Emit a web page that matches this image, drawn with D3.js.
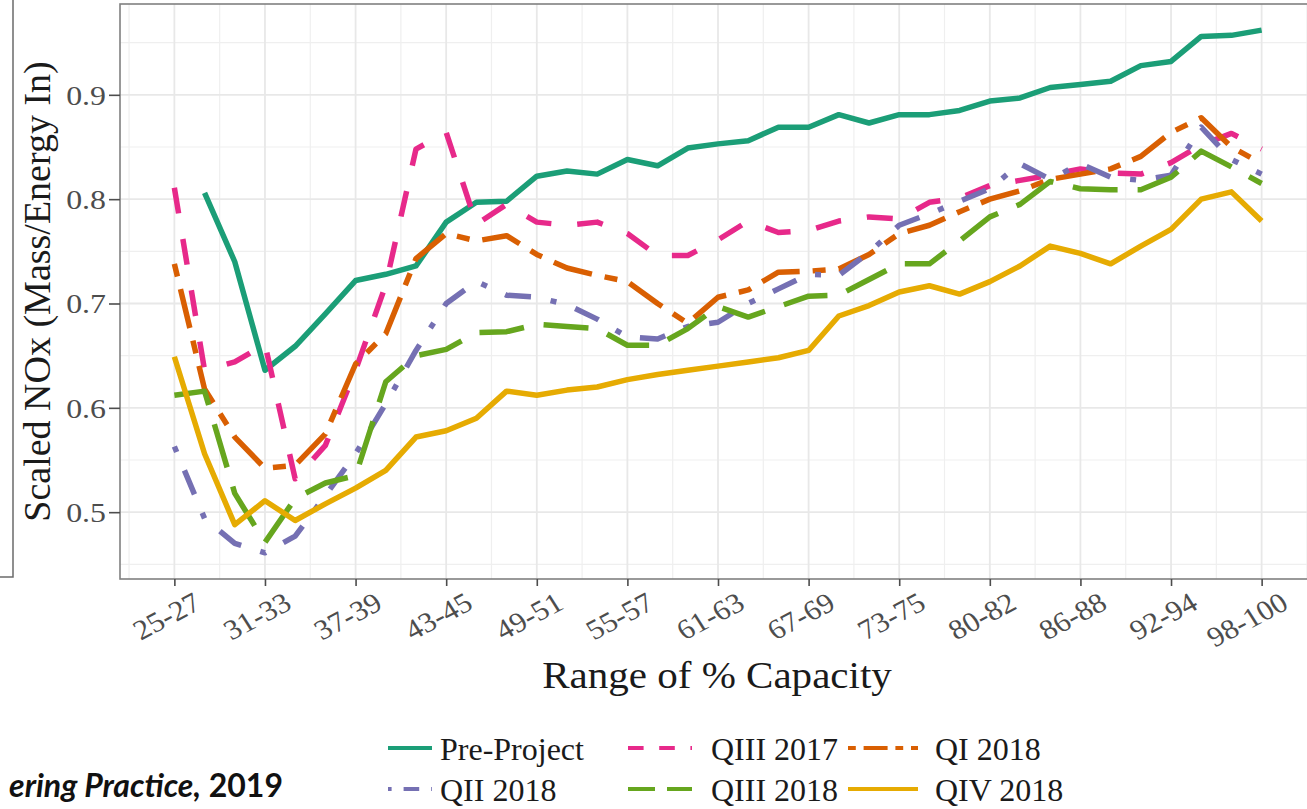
<!DOCTYPE html>
<html lang="en">
<head>
<meta charset="utf-8">
<title>Scaled NOx by range of capacity</title>
<script src="https://cdn.jsdelivr.net/npm/d3@7"></script>
<style>
  body { margin: 0; background: #fff; }
  svg text { font-family: "Liberation Serif", "Times New Roman", serif; }
</style>
</head>
<body>
<script>
// midpoint of each % capacity bin
var capacity = [26, 28, 30, 32, 34, 36, 38, 40, 42, 44, 46, 48, 50, 52, 54, 56, 58, 60, 62,
                64, 66, 68, 70, 72, 74, 76, 78, 80, 82, 84, 86, 88, 90, 92, 94, 96, 98];
var xTicks = [26, 32, 38, 44, 50, 56, 62, 68, 74, 80, 86, 92, 98];
var xTickLabels = ["25-27", "31-33", "37-39", "43-45", "49-51", "55-57", "61-63",
                   "67-69", "73-75", "80-82", "86-88", "92-94", "98-100"];
var yTicks = [0.5, 0.6, 0.7, 0.8, 0.9];

var preProject = [null, 0.806, 0.740, 0.636, 0.659, 0.690, 0.722, 0.728, 0.736, 0.778,
                  0.797, 0.798, 0.822, 0.827, 0.824, 0.838, 0.832, 0.849, 0.853, 0.856,
                  0.869, 0.869, 0.881, 0.873, 0.881, 0.881, 0.885, 0.894, 0.897, 0.907,
                  0.910, 0.913, 0.928, 0.932, 0.956, 0.957, 0.962];
var q3_2017 = [0.811, 0.636, 0.644, 0.661, 0.532, 0.564, 0.636, 0.718, 0.848, 0.864,
               0.776, 0.795, 0.778, 0.775, 0.778, 0.767, 0.746, 0.746, 0.761, 0.779,
               0.768, 0.770, 0.779, 0.783, 0.781, 0.797, 0.801, 0.813, 0.818, 0.823,
               0.829, 0.825, 0.824, 0.835, 0.852, 0.863, 0.848];
var q1_2018 = [0.738, 0.618, 0.572, 0.542, 0.545, 0.575, 0.642, 0.671, 0.743, 0.767,
               0.760, 0.765, 0.747, 0.734, 0.727, 0.721, 0.700, 0.681, 0.706, 0.713,
               0.730, 0.731, 0.733, 0.747, 0.767, 0.775, 0.788, 0.800, 0.808, 0.819,
               0.824, 0.829, 0.841, 0.864, 0.878, 0.850, 0.834];
var q2_2018 = [0.563, 0.494, 0.470, 0.461, 0.477, 0.516, 0.556, 0.604, 0.655, 0.700,
               0.721, 0.708, 0.706, 0.699, 0.685, 0.668, 0.666, 0.678, 0.682, 0.700,
               0.714, 0.728, 0.727, 0.749, 0.775, 0.786, 0.798, 0.810, 0.834, 0.819,
               0.834, 0.821, 0.818, 0.823, 0.869, 0.838, 0.824];
var q3_2018 = [0.612, 0.616, 0.518, 0.471, 0.513, 0.528, 0.535, 0.625, 0.650, 0.656,
               0.672, 0.673, 0.680, 0.678, 0.676, 0.660, 0.660, 0.676, 0.697, 0.687,
               0.697, 0.707, 0.708, 0.723, 0.738, 0.738, 0.760, 0.783, 0.795, 0.817,
               0.810, 0.809, 0.809, 0.821, 0.846, 0.831, 0.815];
var q4_2018 = [0.649, 0.556, 0.488, 0.511, 0.492, 0.508, 0.523, 0.540, 0.572, 0.578,
               0.590, 0.616, 0.612, 0.617, 0.620, 0.627, 0.632, 0.636, 0.640, 0.644,
               0.648, 0.655, 0.688, 0.698, 0.711, 0.717, 0.709, 0.721, 0.736, 0.755,
               0.748, 0.738, 0.755, 0.771, 0.800, 0.807, 0.779];

var seriesNames = ["Pre-Project", "QIII 2017", "QI 2018", "QII 2018", "QIII 2018", "QIV 2018"];
var seriesValues = [preProject, q3_2017, q1_2018, q2_2018, q3_2018, q4_2018];
var seriesColors = ["#1b9e77", "#e7298a", "#d95f02", "#7570b3", "#66a61e", "#e6ab02"];
var seriesDashes = [null, "26,26", "13,13,40,13", "6,20,26,20", "45,20", null];

var w = 1307, h = 809;
var panel = {left: 120, right: 1316, top: 4, bottom: 579};
var serif = "'Liberation Serif', 'Times New Roman', serif";

var svg = d3.select("body").append("svg")
  .attr("width", w)
  .attr("height", h);

// edge of the neighbouring figure panel
svg.append("path")
  .attr("d", "M0,577H13V0")
  .attr("fill", "none")
  .attr("stroke", "#6b6b6b")
  .attr("stroke-width", 1.5);

// ggplot style expansion of 5%
var xExt = d3.extent(capacity);
var xPad = (xExt[1] - xExt[0]) * 0.05;
var allVals = [].concat.apply([], seriesValues).filter(function(v) { return v != null; });
var yExt = d3.extent(allVals);
var yPad = (yExt[1] - yExt[0]) * 0.05;

var x = d3.scaleLinear()
  .domain([xExt[0] - xPad, xExt[1] + xPad])
  .range([panel.left, panel.right]);
var y = d3.scaleLinear()
  .domain([yExt[0] - yPad, yExt[1] + yPad])
  .range([panel.bottom, panel.top]);

// grid
var xMinor = xTicks.map(function(d) { return d - 3; }).concat([xTicks[xTicks.length - 1] + 3]);
var yMinor = yTicks.map(function(d) { return d - 0.05; }).concat([yTicks[yTicks.length - 1] + 0.05]);
var grid = svg.append("g");
grid.selectAll(".xmin").data(xMinor).enter().append("line")
  .attr("x1", function(d) { return x(d); }).attr("x2", function(d) { return x(d); })
  .attr("y1", panel.top).attr("y2", panel.bottom)
  .attr("stroke", "#efefef").attr("stroke-width", 1.2);
grid.selectAll(".ymin").data(yMinor).enter().append("line")
  .attr("x1", panel.left).attr("x2", panel.right)
  .attr("y1", function(d) { return y(d); }).attr("y2", function(d) { return y(d); })
  .attr("stroke", "#efefef").attr("stroke-width", 1.2);
grid.selectAll(".xmaj").data(xTicks).enter().append("line")
  .attr("x1", function(d) { return x(d); }).attr("x2", function(d) { return x(d); })
  .attr("y1", panel.top).attr("y2", panel.bottom)
  .attr("stroke", "#e8e8e8").attr("stroke-width", 1.8);
grid.selectAll(".ymaj").data(yTicks).enter().append("line")
  .attr("x1", panel.left).attr("x2", panel.right)
  .attr("y1", function(d) { return y(d); }).attr("y2", function(d) { return y(d); })
  .attr("stroke", "#e8e8e8").attr("stroke-width", 1.8);

// lines
var line = d3.line()
  .defined(function(d) { return d[1] != null; })
  .x(function(d) { return x(d[0]); })
  .y(function(d) { return y(d[1]); });

svg.append("g").selectAll("path")
  .data(seriesValues)
  .enter()
  .append("path")
  .attr("d", function(vals) {
    return line(vals.map(function(v, i) { return [capacity[i], v]; }));
  })
  .attr("fill", "none")
  .attr("stroke", function(d, i) { return seriesColors[i]; })
  .attr("stroke-width", 5.5)
  .attr("stroke-linejoin", "round")
  .attr("stroke-dasharray", function(d, i) { return seriesDashes[i]; });

// panel border
svg.append("rect")
  .attr("x", panel.left).attr("y", panel.top)
  .attr("width", panel.right - panel.left).attr("height", panel.bottom - panel.top)
  .attr("fill", "none")
  .attr("stroke", "#808080")
  .attr("stroke-width", 1.6);

// axes
var yAxis = svg.append("g")
  .attr("transform", "translate(" + panel.left + ",0)")
  .attr("font-family", serif)
  .call(d3.axisLeft(y).tickValues(yTicks).tickSize(11)
    .tickFormat(d3.format(".1f")));
yAxis.select(".domain").remove();
yAxis.selectAll("line").attr("stroke", "#4d4d4d").attr("stroke-width", 1.6);
yAxis.selectAll("text")
  .attr("x", 0)
  .attr("dy", "0.34em")
  .attr("text-anchor", "end")
  .attr("transform", "translate(-14,0) scale(1.18,1)")
  .attr("fill", "#4d4d4d")
  .style("font-size", "27px")
  .style("font-family", serif);

var xAxis = svg.append("g")
  .attr("transform", "translate(0," + panel.bottom + ")")
  .attr("font-family", serif)
  .call(d3.axisBottom(x).tickValues(xTicks).tickSize(7)
    .tickFormat(function(d, i) { return xTickLabels[i]; }));
xAxis.select(".domain").remove();
xAxis.selectAll("line").attr("stroke", "#4d4d4d").attr("stroke-width", 1.6);
xAxis.selectAll("text")
  .attr("y", 0)
  .attr("dy", 0)
  .attr("text-anchor", "end")
  .attr("transform", "translate(28,29) scale(1.1,1) rotate(-30)")
  .attr("fill", "#4d4d4d")
  .style("font-size", "28px")
  .style("font-family", serif);

// axis titles
svg.append("text")
  .attr("transform", "translate(50," + ((panel.top + panel.bottom) / 2) + ") rotate(-90)")
  .attr("text-anchor", "middle")
  .attr("fill", "#1a1a1a")
  .style("font-size", "38px")
  .text("Scaled NOx (Mass/Energy In)");

svg.append("text")
  .attr("transform", "translate(717,688) scale(1.08,1)")
  .attr("text-anchor", "middle")
  .attr("fill", "#1a1a1a")
  .style("font-size", "38px")
  .text("Range of % Capacity");

// legend, 3 columns x 2 rows
var legCols = [{k0: 388, k1: 432, tx: 440}, {k0: 628, k1: 692, tx: 711}, {k0: 848, k1: 918, tx: 935}];
var legRows = [748, 789];
var legend = svg.append("g");
seriesNames.forEach(function(name, i) {
  var c = legCols[i % 3], ry = legRows[Math.floor(i / 3)];
  legend.append("line")
    .attr("x1", c.k0).attr("x2", c.k1)
    .attr("y1", ry).attr("y2", ry)
    .attr("stroke", seriesColors[i])
    .attr("stroke-width", 4)
    .attr("stroke-dasharray", seriesDashes[i] ? seriesDashes[i].split(",").map(function(v) { return v * 0.6; }).join(",") : null);
  legend.append("text")
    .attr("x", c.tx)
    .attr("y", ry)
    .attr("dy", "0.36em")
    .attr("fill", "#1a1a1a")
    .style("font-size", "32px")
    .text(name);
});

// citation fragment at bottom left
var cite = svg.append("text")
  .attr("x", 283)
  .attr("y", 797)
  .attr("text-anchor", "end")
  .style("font-family", "Lato, 'Open Sans', sans-serif")
  .style("font-weight", "bold")
  .style("font-size", "32px")
  .attr("fill", "#111");
cite.append("tspan").style("font-style", "italic").text("ering Practice,");
cite.append("tspan").text(" 2019");
</script>
</body>
</html>
